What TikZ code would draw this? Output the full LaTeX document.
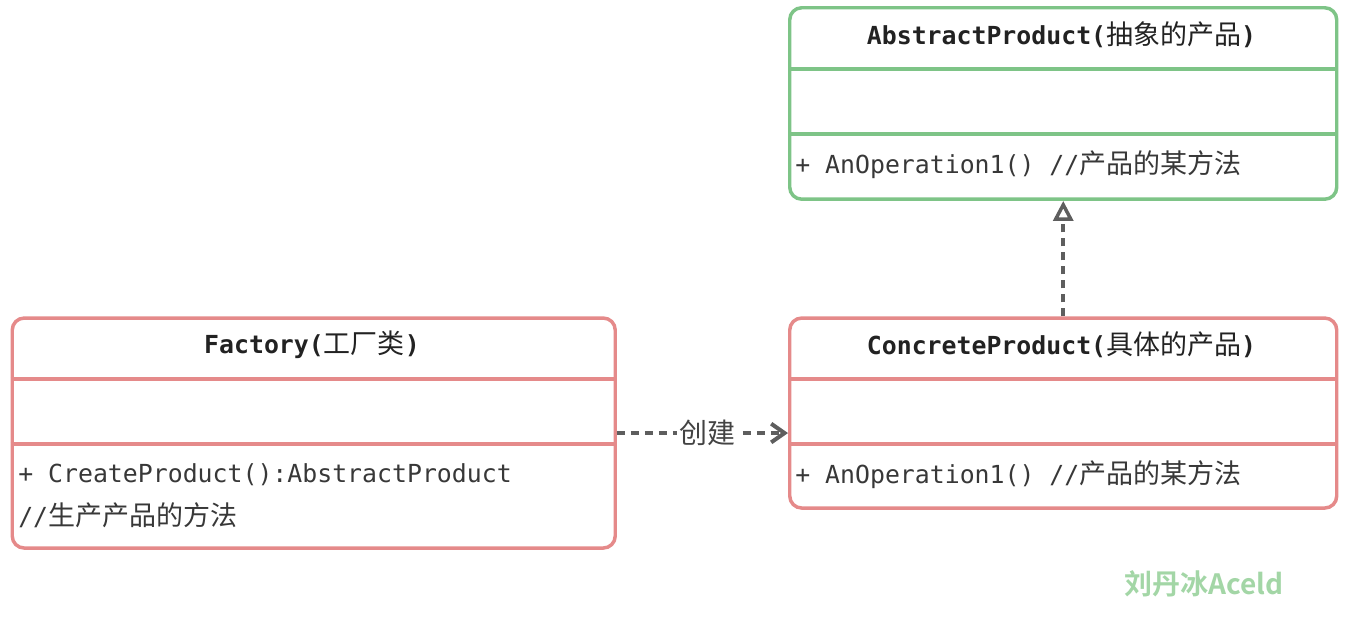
\documentclass[tikz,border=0pt]{standalone}
\usepackage{fontspec}
\usepackage{tikz}
\usetikzlibrary{arrows.meta,positioning}
\setmonofont[Scale=0.92]{DejaVu Sans Mono}
\newfontfamily\cjk{Noto Sans CJK SC}
\newfontfamily\cjkbold{Noto Sans CJK SC Bold}
\definecolor{factoryred}{HTML}{E58A8A}
\definecolor{productgreen}{HTML}{7EC487}
\definecolor{linkgray}{HTML}{5E5E5E}
\definecolor{markgreen}{HTML}{A3D6A6}
\definecolor{ink}{HTML}{222222}

\begin{document}
\begin{tikzpicture}[x=0.75pt, y=-0.75pt,
  classbox/.style={draw, line width=2.6pt, rounded corners=9pt, anchor=north west, inner sep=0pt},
  divider/.style={line width=2.6pt},
  title/.style={font=\fontsize{20.25pt}{24pt}\selectfont\ttfamily\bfseries, text=ink},
  member/.style={font=\fontsize{20.25pt}{24pt}\selectfont\ttfamily, text=ink!90, anchor=west, inner sep=0pt},
  dep/.style={draw=linkgray, line width=2.9pt, dash pattern=on 6pt off 4.5pt}]
  \useasboundingbox (0,0) rectangle (1351,622);

  % Abstract product
  \node[classbox, draw=productgreen, minimum width=410.25pt, minimum height=143.6pt] (abstract) at (788,6) {};
  \draw[divider, productgreen] (abstract.west |- 0,69) -- (abstract.east |- 0,69);
  \draw[divider, productgreen] (abstract.west |- 0,134) -- (abstract.east |- 0,134);
  \node[title] (abstractname) at (1061.5,35) {AbstractProduct({\mdseries\cjk 抽象的产品})};
  \node[member] (abstractop) at (795,165) {+ AnOperation1() //{\cjk 产品的某方法}};

  % Concrete product
  \node[classbox, draw=factoryred, minimum width=410.25pt, minimum height=142.5pt] (concrete) at (788,316.3) {};
  \draw[divider, factoryred] (concrete.west |- 0,379) -- (concrete.east |- 0,379);
  \draw[divider, factoryred] (concrete.west |- 0,444) -- (concrete.east |- 0,444);
  \node[title] (concretename) at (1061.5,345) {ConcreteProduct({\mdseries\cjk 具体的产品})};
  \node[member] (concreteop) at (795,475) {+ AnOperation1() //{\cjk 产品的某方法}};

  % Factory
  \node[classbox, draw=factoryred, minimum width=452.25pt, minimum height=172.5pt] (factory) at (10.5,316.3) {};
  \draw[divider, factoryred] (factory.west |- 0,379) -- (factory.east |- 0,379);
  \draw[divider, factoryred] (factory.west |- 0,444) -- (factory.east |- 0,444);
  \node[title] (factoryname) at (312,345) {Factory({\mdseries\cjk 工厂类})};
  \node[member] (factoryop) at (18,475) {+ CreateProduct():AbstractProduct};
  \node[member] (factorynote) at (18,515) {//{\cjk 生产产品的方法}};

  % Links
  \draw[dep, -{Straight Barb[length=10pt, width=14pt, line width=3pt]}] (factory.east) --
    node[fill=white, inner sep=2pt, text=ink!85, font=\fontsize{21pt}{24pt}\cjk, xshift=4pt] (create) {创建}
    (factory.east -| concrete.west);
  \draw[dep, -{Triangle[open, length=15pt, width=15pt, line width=2.6pt]}] (concrete.north) -- (abstract.south);

  % Watermark
  \node[text=markgreen, font=\fontsize{21pt}{24pt}\cjkbold] (mark) at (1204,584) {刘丹冰Aceld};
\end{tikzpicture}
\end{document}
